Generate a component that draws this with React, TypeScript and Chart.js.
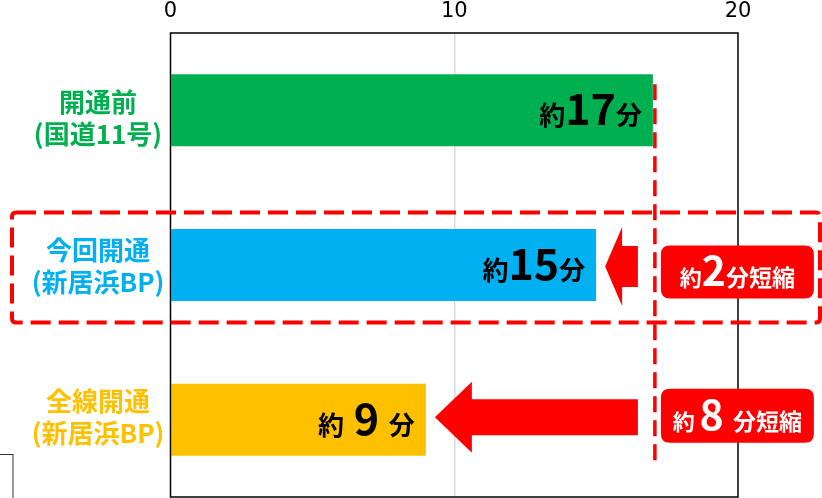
import { useEffect, useRef } from "react";
import { Chart, registerables } from "chart.js";

Chart.register(...registerables);

// ---- data ----
const categories: string[][] = [
  ["開通前", "(国道11号)"],
  ["今回開通", "(新居浜BP)"],
  ["全線開通", "(新居浜BP)"],
];
const minutes: number[] = [17, 15, 9];
const barColors: string[] = ["#00B050", "#00B0F0", "#FFC000"];
const xTicks: number[] = [0, 10, 20];
const savedMinutes: number[] = [2, 8]; // vs. 開通前, for rows 1 and 2

// ---- style ----
const FONT = "'Noto Sans CJK JP', 'Noto Sans CJK SC', sans-serif";
const RED = "#FF0000";
const labelShift = [8, 1, -3];

type Part = { text: string; size: number };

function drawParts(
  ctx: CanvasRenderingContext2D,
  parts: Part[],
  x: number,
  y: number,
  align: "right" | "center",
  color: string
) {
  const widths = parts.map((p) => {
    ctx.font = `bold ${p.size}px ${FONT}`;
    return ctx.measureText(p.text).width;
  });
  const total = widths.reduce((a, b) => a + b, 0);
  let cx = align === "right" ? x - total : x - total / 2;
  ctx.fillStyle = color;
  ctx.textAlign = "left";
  ctx.textBaseline = "alphabetic";
  parts.forEach((p, i) => {
    ctx.font = `bold ${p.size}px ${FONT}`;
    ctx.fillText(p.text, cx, y);
    cx += widths[i];
  });
}

function drawArrow(
  ctx: CanvasRenderingContext2D,
  tip: number,
  back: number,
  end: number,
  cy: number,
  headH: number,
  shaftH: number
) {
  ctx.beginPath();
  ctx.moveTo(tip, cy);
  ctx.lineTo(back, cy - headH);
  ctx.lineTo(back, cy - shaftH);
  ctx.lineTo(end, cy - shaftH);
  ctx.lineTo(end, cy + shaftH);
  ctx.lineTo(back, cy + shaftH);
  ctx.lineTo(back, cy + headH);
  ctx.closePath();
  ctx.fillStyle = RED;
  ctx.fill();
}

function roundRect(
  ctx: CanvasRenderingContext2D,
  x: number,
  y: number,
  w: number,
  h: number,
  r: number
) {
  ctx.beginPath();
  ctx.moveTo(x + r, y);
  ctx.lineTo(x + w - r, y);
  ctx.quadraticCurveTo(x + w, y, x + w, y + r);
  ctx.lineTo(x + w, y + h - r);
  ctx.quadraticCurveTo(x + w, y + h, x + w - r, y + h);
  ctx.lineTo(x + r, y + h);
  ctx.quadraticCurveTo(x, y + h, x, y + h - r);
  ctx.lineTo(x, y + r);
  ctx.quadraticCurveTo(x, y, x + r, y);
  ctx.closePath();
}

const decorPlugin = {
  id: "decor",
  afterDatasetsDraw(chart: any) {
    const ctx: CanvasRenderingContext2D = chart.ctx;
    const a = chart.chartArea;
    const xs = chart.scales.x;
    const ys = chart.scales.y;
    ctx.save();
    // plot frame
    ctx.strokeStyle = "#000";
    ctx.lineWidth = 1.5;
    ctx.strokeRect(a.left, a.top, a.right - a.left, a.bottom - a.top);

    // category labels
    categories.forEach((lines, i) => {
      const cy = ys.getPixelForValue(i) + labelShift[i];
      ctx.font = `bold 26px ${FONT}`;
      ctx.fillStyle = barColors[i];
      ctx.textAlign = "center";
      ctx.textBaseline = "middle";
      ctx.fillText(lines[0], 98, cy - 16);
      ctx.fillText(lines[1], 98, cy + 16);
    });

    // value labels in bars
    minutes.forEach((m, i) => {
      const xe = xs.getPixelForValue(m) - 11;
      const cy = ys.getPixelForValue(i);
      const num = String(m).length === 1 ? ` ${m} ` : String(m);
      drawParts(
        ctx,
        [
          { text: "約", size: 26 },
          { text: num, size: 43 },
          { text: "分", size: 26 },
        ],
        xe,
        cy + 15,
        "right",
        "#000"
      );
    });
    ctx.restore();
  },
  afterDraw(chart: any) {
    const ctx: CanvasRenderingContext2D = chart.ctx;
    const a = chart.chartArea;
    const xs = chart.scales.x;
    const ys = chart.scales.y;
    const lineX = xs.getPixelForValue(minutes[0]) + 2;
    ctx.save();

    // vertical dashed line at "before" value
    ctx.strokeStyle = RED;
    ctx.lineWidth = 3.5;
    ctx.setLineDash([16, 8]);
    ctx.beginPath();
    ctx.moveTo(lineX, ys.getPixelForValue(0) - 26);
    ctx.lineTo(lineX, ys.getPixelForValue(2) + 48);
    ctx.stroke();

    // dashed highlight rectangle around row 1
    const c1 = ys.getPixelForValue(1);
    ctx.lineWidth = 4;
    ctx.setLineDash([20, 8]);
    roundRect(ctx, 12, c1 - 52.5, 808, 110, 4);
    ctx.stroke();
    ctx.setLineDash([]);

    // arrows
    const arrowSpec = [
      { row: 1, head: 17, headH: 39.5, shaftH: 20.5, dy: 1.5 },
      { row: 2, head: 37, headH: 35.5, shaftH: 18, dy: -2.5 },
    ];
    arrowSpec.forEach((s) => {
      const tip = xs.getPixelForValue(minutes[s.row]) + 9;
      const end = xs.getPixelForValue(minutes[0]) - 15;
      drawArrow(
        ctx,
        tip,
        tip + s.head,
        end,
        ys.getPixelForValue(s.row) + s.dy,
        s.headH,
        s.shaftH
      );
    });

    // reduction boxes
    const boxSpec = [
      { row: 1, dy: 7, h: 53 },
      { row: 2, dy: -4, h: 54 },
    ];
    savedMinutes.forEach((sv, k) => {
      const b = boxSpec[k];
      const cy = ys.getPixelForValue(b.row) + b.dy;
      const bx = lineX + 6;
      const bw = 153;
      roundRect(ctx, bx, cy - b.h / 2, bw, b.h, 9);
      ctx.fillStyle = RED;
      ctx.fill();
      const num = String(sv);
      const spaced = k === 1;
      drawParts(
        ctx,
        [
          { text: spaced ? "約 " : "約", size: 22 },
          { text: spaced ? num + " " : num, size: 41 },
          { text: "分短縮", size: 23 },
        ],
        bx + bw / 2,
        cy + 14,
        "center",
        "#FFFFFF"
      );
    });

    // small cut-off frame at lower left
    ctx.strokeStyle = "#333";
    ctx.lineWidth = 1;
    ctx.strokeRect(-1, a.bottom - 42.5, 14, 60);
    ctx.restore();
  },
};

export default function App() {
  const ref = useRef<HTMLCanvasElement | null>(null);

  useEffect(() => {
    document.body.style.margin = "0";
    if (!ref.current) return;
    const chart = new Chart(ref.current, {
      type: "bar",
      data: {
        labels: categories.map((c) => c.join(" ")),
        datasets: [
          {
            data: minutes,
            backgroundColor: barColors,
            borderWidth: 0,
            barPercentage: 0.466,
            categoryPercentage: 1,
          },
        ],
      },
      options: {
        indexAxis: "y",
        animation: false,
        responsive: true,
        maintainAspectRatio: false,
        layout: { padding: { left: 170.5, right: 84, top: 0, bottom: 1 } },
        plugins: {
          legend: { display: false },
          tooltip: { enabled: false },
        },
        scales: {
          x: {
            position: "top",
            min: 0,
            max: 20,
            afterBuildTicks: (s: any) => {
              s.ticks = xTicks.map((v) => ({ value: v }));
            },
            afterFit: (s: any) => {
              s.height = 33;
            },
            ticks: {
              font: { family: "'DejaVu Sans', sans-serif", size: 21 },
              color: "#000",
              padding: 9,
              maxRotation: 0,
            },
            grid: {
              drawTicks: false,
              lineWidth: 1.5,
              color: (c: any) =>
                c.tick && c.tick.value === 10 ? "#d9d9d9" : "rgba(0,0,0,0)",
            },
            border: { display: false },
          },
          y: {
            display: false,
          },
        },
      },
      plugins: [decorPlugin],
    });
    return () => chart.destroy();
  }, []);

  return (
    <div
      style={{
        position: "absolute",
        left: 0,
        top: 0,
        width: 822,
        height: 498,
        background: "#fff",
      }}
    >
      <canvas ref={ref} />
    </div>
  );
}
